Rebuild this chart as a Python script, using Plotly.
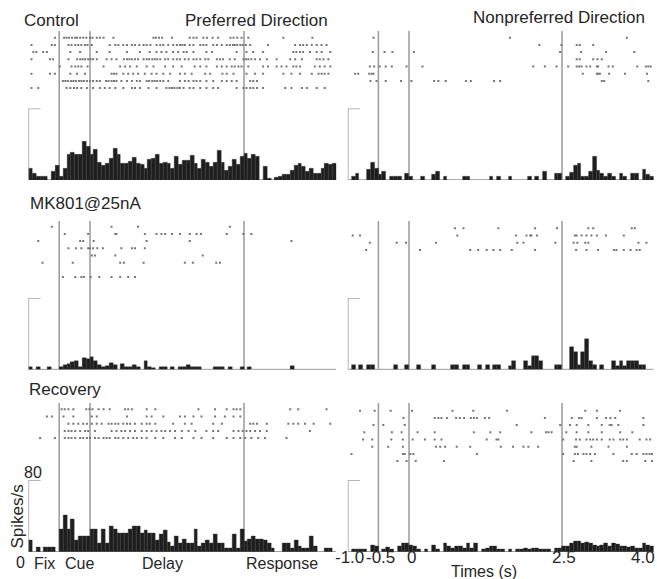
import plotly.graph_objects as go

# ---------------- data ----------------
BIN_START = -1.0
BIN_WIDTH = 0.0625
T_MIN, T_MAX = -1.0, 4.0
EVENT_TIMES = [-0.5, 0.0, 2.5]
SCALE_SPS = 80

# PSTH values (spikes/s), 80 bins of 62.5 ms from -1.0 s to 4.0 s
control_pref_psth = [13, 7, 4, 4, 4, 0, 9, 16, 4, 13, 29, 31, 28, 28, 43, 37, 29, 34, 20, 16,
                     19, 24, 35, 28, 19, 19, 21, 25, 19, 17, 13, 23, 24, 28, 19, 20, 19, 13, 26, 17,
                     22, 22, 27, 19, 13, 23, 20, 15, 20, 33, 20, 11, 15, 23, 17, 26, 30, 24, 28, 26,
                     0, 15, 2, 0, 3, 4, 6, 6, 11, 16, 18, 15, 9, 13, 7, 7, 13, 18, 17, 18]
control_nonpref_psth = [0, 4, 7, 0, 0, 12, 20, 13, 6, 9, 0, 4, 4, 4, 0, 7, 4, 0, 0, 4,
                        0, 0, 6, 9, 0, 4, 0, 0, 0, 0, 4, 4, 0, 0, 0, 0, 0, 4, 0, 4,
                        0, 0, 4, 0, 0, 0, 0, 4, 0, 4, 0, 9, 0, 0, 7, 7, 0, 4, 8, 16,
                        18, 4, 4, 9, 26, 11, 7, 4, 7, 4, 0, 7, 4, 0, 7, 7, 0, 12, 6, 4]
mk801_pref_psth = [3, 0, 3, 0, 0, 3, 0, 0, 3, 5, 6, 8, 9, 3, 13, 12, 14, 9, 5, 3,
                   4, 7, 5, 0, 6, 3, 3, 5, 3, 0, 10, 3, 2, 0, 3, 3, 0, 3, 0, 3,
                   3, 5, 3, 3, 3, 0, 0, 0, 3, 3, 3, 0, 3, 0, 0, 3, 0, 3, 0, 0,
                   0, 0, 0, 0, 0, 0, 0, 0, 4, 0, 0, 0, 0, 0, 0, 0, 0, 0, 0, 0]
mk801_nonpref_psth = [0, 5, 0, 5, 0, 5, 5, 0, 0, 0, 0, 0, 5, 0, 0, 5, 0, 0, 5, 0,
                      0, 0, 5, 0, 0, 0, 0, 5, 5, 0, 5, 5, 0, 0, 5, 0, 5, 0, 5, 5,
                      0, 0, 4, 10, 0, 0, 10, 4, 15, 15, 10, 0, 0, 0, 5, 5, 0, 0, 25, 20,
                      5, 20, 34, 9, 5, 0, 5, 0, 0, 9, 4, 9, 4, 9, 9, 9, 5, 5, 0, 0]
recovery_pref_psth = [13, 0, 5, 0, 5, 5, 5, 0, 25, 41, 25, 36, 13, 17, 17, 17, 25, 25, 9, 25,
                      9, 29, 25, 21, 21, 21, 25, 29, 29, 21, 24, 21, 21, 13, 20, 24, 11, 6, 17, 9,
                      14, 9, 9, 25, 6, 9, 13, 9, 20, 9, 9, 4, 4, 20, 4, 25, 12, 14, 17, 14,
                      14, 13, 9, 4, 0, 0, 9, 9, 4, 13, 6, 4, 4, 17, 6, 0, 0, 4, 4, 0]
recovery_nonpref_psth = [0, 3, 3, 3, 3, 0, 7, 6, 0, 3, 5, 3, 0, 6, 10, 10, 7, 6, 3, 0,
                         3, 0, 7, 3, 0, 10, 6, 4, 6, 6, 4, 9, 4, 9, 0, 3, 4, 6, 6, 3,
                         3, 0, 3, 0, 3, 3, 4, 3, 4, 4, 3, 3, 3, 0, 4, 4, 6, 6, 9, 12,
                         12, 9, 11, 9, 7, 6, 7, 9, 6, 10, 8, 6, 6, 5, 6, 4, 4, 10, 7, 6]

# Raster spike times (s), one list per trial (top to bottom)
control_pref_raster = [
    [-0.57, -0.42, -0.38, -0.34, -0.29, -0.24, -0.21, -0.16, -0.11, -0.06, 0.0, 0.04, 0.11, 0.16, 0.22, 0.38,
     1.03, 1.07, 1.12, 1.17, 1.33, 1.62, 1.68, 1.73, 1.84, 1.90, 1.99, 2.08, 2.28, 2.33, 2.39, 2.46, 2.57, 3.14, 3.61],
    [-0.95, -0.62, -0.57, -0.35, -0.30, -0.24, -0.19, -0.14, -0.08, -0.04, 0.03, 0.32, 0.41, 0.46, 0.54, 0.60,
     0.68, 0.73, 0.80, 0.87, 0.92, 0.98, 1.08, 1.14, 1.19, 1.27, 1.35, 1.41, 1.46, 1.50, 1.54, 1.62, 1.68, 1.79,
     1.84, 1.89, 2.00, 2.06, 2.14, 2.22, 2.27, 2.32, 2.35, 2.39, 2.44, 2.48, 2.53, 2.60, 2.89, 3.33, 3.41, 3.46,
     3.52, 3.60, 3.68, 3.76, 3.84],
    [-0.92, -0.87, -0.76, -0.70, -0.32, -0.16, 0.11, 0.32, 0.60, 0.81, 0.97, 1.08, 1.16, 1.24, 1.35, 1.43, 1.52,
     1.57, 1.68, 1.89, 1.98, 2.38, 2.54, 2.65, 2.81, 3.30, 3.35, 3.41, 3.46, 3.57, 3.68, 3.76, 3.90],
    [-0.95, -0.65, -0.60, -0.35, -0.21, -0.16, -0.12, -0.08, -0.03, 0.01, 0.05, 0.11, 0.27, 0.35, 0.43, 0.55,
     0.60, 0.64, 0.68, 0.73, 0.78, 0.87, 0.92, 0.96, 1.01, 1.05, 1.09, 1.14, 1.22, 1.27, 1.35, 1.41, 1.46, 1.54,
     1.60, 1.68, 1.73, 1.79, 1.87, 1.92, 2.06, 2.11, 2.16, 2.27, 2.35, 2.49, 2.53, 2.57, 2.62, 2.68, 2.76, 2.87,
     3.03, 3.25, 3.33, 3.44, 3.68, 3.73, 3.79, 3.87],
    [-0.49, -0.30, -0.24, -0.19, -0.14, -0.04, 0.22, 0.49, 0.57, 0.65, 0.76, 0.92, 1.03, 1.22, 1.35, 1.49, 1.70,
     1.79, 1.89, 2.06, 2.14, 2.22, 2.30, 2.35, 2.41, 2.46, 2.57, 2.81, 2.89, 3.03, 3.11, 3.19, 3.30, 3.35, 3.41,
     3.65, 3.73, 3.81, 3.90],
    [-0.95, -0.65, -0.57, -0.32, -0.21, -0.08, 0.35, 0.39, 0.43, 0.54, 0.62, 0.70, 0.78, 0.89, 1.00, 1.08, 1.19,
     1.30, 1.46, 1.54, 1.65, 1.87, 1.95, 2.15, 2.22, 2.33, 2.54, 2.68, 2.81, 3.14, 3.27, 3.41, 3.60, 3.71, 3.76,
     3.81, 3.87],
    [-0.44, -0.40, -0.36, -0.31, -0.27, -0.23, -0.18, -0.14, -0.10, -0.05, 0.0, 0.05, 0.11, 0.16, 0.26, 0.30,
     0.35, 0.39, 0.43, 0.51, 0.60, 0.68, 0.76, 0.81, 0.92, 0.96, 1.01, 1.05, 1.09, 1.14, 1.19, 1.27, 1.46, 1.54,
     1.60, 1.68, 1.73, 1.79, 1.89, 2.00, 2.14, 2.22, 2.30, 2.38, 2.60, 2.65, 2.71],
    [-0.95, -0.84, -0.38, -0.32, -0.26, -0.21, -0.14, -0.05, 0.05, 0.16, 0.24, 0.32, 0.41, 0.54, 0.68, 0.73,
     0.81, 0.95, 1.08, 1.24, 1.29, 1.33, 1.37, 1.42, 1.46, 1.52, 1.62, 1.68, 1.79, 1.89, 2.00, 2.08, 2.38, 2.49,
     2.54, 2.60, 2.65, 2.71, 2.81, 3.17, 3.27, 3.44, 3.52, 3.68, 3.81],
]
control_nonpref_raster = [
    [-0.58, 1.65, 3.56],
    [2.13, 2.49, 2.74, 2.79, 3.01],
    [-0.59, -0.40, -0.27, 0.08, 2.47, 2.81, 3.22, 3.68],
    [2.74, 2.79, 3.01, 3.08, 3.15],
    [-0.64, -0.57, -0.48, -0.38, -0.28, -0.04, 0.22, 2.03, 2.22, 2.41, 2.60, 2.74, 2.78, 2.82, 2.90, 2.96, 3.07,
     3.09, 3.26, 3.33, 3.73, 3.87, 3.91, 3.95],
    [-0.88, -0.83, -0.65, -0.61, -0.58, 2.84, 3.07, 3.09, 3.12, 3.27, 3.53, 3.89],
    [-0.63, -0.53, -0.38, -0.13, 0.04, 0.41, 0.48, 0.60, 0.93, 1.01, 1.39, 1.49, 3.15, 3.19, 3.91],
]
mk801_pref_raster = [
    [-0.62, 0.35, 0.78, 2.27],
    [-0.41, -0.03, 0.41, 0.43, 0.89, 1.08, 1.16, 1.22, 1.33, 1.46, 1.62, 1.73, 1.80, 2.22, 2.49, 2.62],
    [-0.84, -0.16, -0.11, 0.06, 0.92, 1.62, 3.27],
    [-0.35, -0.23, -0.14, -0.03, 0.0, 0.05, 0.12, 0.21, 0.51, 0.68, 0.73, 0.89],
    [0.03, 0.08, 0.41, 1.83],
    [-0.77, -0.28, 0.49, 0.55, 0.87, 1.54, 1.67, 2.05, 2.11],
    [],
    [-0.44, -0.24, -0.14, -0.10, 0.01, 0.15, 0.35, 0.49, 0.62, 0.73],
]
mk801_nonpref_raster = [
    [0.75, 0.89, 1.46, 2.06, 2.42, 2.93, 3.01, 3.64, 3.69],
    [-0.92, -0.80, 0.79, 1.75, 1.92, 1.98, 2.00, 2.09, 2.71, 2.74, 2.82, 2.90, 2.98, 3.07, 3.22, 3.51],
    [-0.64, -0.20, -0.05, 0.44, 1.77, 1.87, 2.39, 2.69, 2.75, 2.88, 2.93, 3.75, 3.88],
    [-0.70, 0.18, 1.00, 1.13, 1.27, 1.38, 1.49, 1.68, 2.06, 2.73, 2.90, 3.09, 3.35, 3.39, 3.51, 3.62, 3.72, 3.77],
]
recovery_pref_raster = [
    [-0.46, -0.41, -0.35, -0.27, -0.06, -0.01, 0.04, 0.14, 0.22, 0.32, 0.57, 0.62, 0.68, 0.92, 1.06, 1.76, 2.03,
     2.22, 2.33, 2.38, 2.44, 3.25, 3.38, 3.84],
    [-0.70, -0.62, -0.43, -0.27, 0.03, 0.11, 0.60, 0.92, 1.00, 1.19, 1.46, 1.54, 1.68, 1.81, 2.03, 2.19, 2.33, 2.44],
    [-0.35, -0.27, -0.19, -0.11, -0.05, 0.03, 0.11, 0.19, 0.30, 0.35, 0.41, 0.46, 0.54, 0.60, 0.65, 0.73, 0.84,
     0.92, 0.97, 1.06, 1.35, 1.54, 1.65, 2.00, 2.14, 2.60, 2.65, 2.71, 2.87, 3.22, 3.30, 3.38, 3.49, 3.63, 3.90],
    [-0.41, -0.35, -0.30, -0.24, -0.16, -0.08, -0.03, 0.08, 0.35, 0.43, 0.51, 0.57, 0.65, 0.73, 0.84, 0.92, 1.00,
     1.08, 1.16, 1.22, 1.30, 1.38, 1.49, 1.60, 1.71, 1.89, 2.00, 2.08, 2.33, 2.41, 2.48, 2.54, 2.60, 2.68, 2.76,
     2.87, 3.57],
    [-0.81, -0.57, -0.41, -0.35, -0.30, -0.24, -0.16, -0.11, -0.05, 0.0, 0.08, 0.14, 0.22, 0.27, 0.32, 0.41, 0.46,
     0.54, 0.62, 0.70, 0.76, 0.84, 0.92, 1.06, 1.19, 1.38, 1.49, 1.68, 1.81, 2.00, 2.22, 2.33, 2.44, 2.52, 2.62,
     2.73, 2.84, 3.19],
]
recovery_nonpref_raster = [
    [-0.80, -0.56, -0.30, 0.05, 0.71, 1.05, 1.60, 2.88, 3.07, 3.45],
    [-0.09, 0.42, 0.48, 0.53, 0.62, 0.77, 0.83, 0.90, 1.01, 1.06, 1.11, 1.24, 1.31, 2.22, 2.66, 2.78, 2.82, 3.07,
     3.22, 3.29, 3.37, 3.83],
    [-0.58, -0.42, -0.07, 1.76, 2.47, 2.63, 2.74, 2.93, 3.15, 3.28, 3.31, 3.42, 3.83],
    [-0.73, -0.28, -0.12, 0.14, 0.42, 1.06, 1.33, 1.49, 2.00, 2.24, 2.28, 2.33, 2.57, 2.74, 2.93, 3.15, 3.45, 3.65],
    [-0.75, -0.60, -0.29, -0.10, 0.06, 0.26, 0.42, 0.53, 1.27, 1.43, 1.46, 2.52, 2.73, 2.79, 2.90, 2.96, 3.01,
     3.07, 3.15, 3.28, 3.34, 3.45, 3.50, 3.56, 3.77, 3.88, 3.94],
    [-0.60, -0.34, -0.10, 0.44, 0.51, 0.59, 0.78, 1.00, 1.50, 1.70, 1.87, 1.95, 2.11, 2.71, 2.74, 2.98, 3.26, 3.56],
    [-0.94, -0.10, -0.07, 0.02, 0.07, 1.11, 2.52, 2.71, 2.76, 2.85, 2.90, 2.96, 3.04, 3.34, 3.64, 3.72, 3.83,
     3.88, 3.93, 3.97],
    [-0.19, -0.04, 0.11, 0.57, 2.69, 2.98, 3.50, 3.56, 3.86, 3.97],
]

row_titles = ["Control", "MK801@25nA", "Recovery"]
col_titles = ["Preferred Direction", "Nonpreferred Direction"]
epoch_labels = ["Fix", "Cue", "Delay", "Response"]
time_tick_labels = ["-1.0", "-0.5", "0", "2.5", "4.0"]
time_tick_values = [-1.0, -0.5, 0.0, 2.5, 4.0]

panels = [
    (control_pref_psth, control_pref_raster),
    (control_nonpref_psth, control_nonpref_raster),
    (mk801_pref_psth, mk801_pref_raster),
    (mk801_nonpref_psth, mk801_nonpref_raster),
    (recovery_pref_psth, recovery_pref_raster),
    (recovery_nonpref_psth, recovery_nonpref_raster),
]
for h, _ in panels:
    assert len(h) == 80

# ---------------- layout geometry (pixels) ----------------
W, H = 657, 579
def pxx(p): return p / W
def pxy(p): return 1 - p / H

col_px = [(28.4, 336.4), (347.8, 653.8)]
baseline_px = [180.0, 369.5, 551.7]
hist_h_px = 71.5
line_top_px = [31.0, 221.0, 403.0]
first_trial_px = [[37.7, 37.7], [226.7, 228.3], [409.3, 410.7]]
trial_step_px = 7.2
MAX_TRIALS = 8

BAR_COLOR = "#1e1e1e"
GRAY = "#a0a0a0"
DOT_COLOR = "#767676"
TXT = "#262626"
FONT = "Liberation Sans, Arial, sans-serif"

fig = go.Figure()
layout = {}
shapes = []

for p, (psth, raster) in enumerate(panels):
    r, c = divmod(p, 2)
    xa = f"x{p+1}"
    yh = f"y{p+1}"
    yr = f"y{p+7}"
    x0p, x1p = col_px[c]
    layout[f"xaxis{p+1}"] = dict(domain=[pxx(x0p), pxx(x1p)], range=[T_MIN, T_MAX],
                                 visible=False, anchor=yh, fixedrange=True)
    layout[f"yaxis{p+1}"] = dict(domain=[pxy(baseline_px[r]), pxy(baseline_px[r] - hist_h_px)],
                                 range=[0, SCALE_SPS], visible=False, anchor=xa)
    top = first_trial_px[r][c] - trial_step_px / 2
    bot = top + MAX_TRIALS * trial_step_px
    layout[f"yaxis{p+7}"] = dict(domain=[pxy(bot), pxy(top)], range=[MAX_TRIALS + 0.5, 0.5],
                                 visible=False, anchor=xa)

    centers = [BIN_START + BIN_WIDTH * (i + 0.5) for i in range(len(psth))]
    fig.add_trace(go.Bar(x=centers, y=psth, width=BIN_WIDTH, xaxis=xa, yaxis=yh,
                         marker=dict(color=BAR_COLOR, line=dict(color="#3a3a3a", width=0.4)),
                         showlegend=False, hoverinfo="skip"))

    xs, ys = [], []
    for k, trial in enumerate(raster):
        xs += trial
        ys += [k + 1] * len(trial)
    fig.add_trace(go.Scatter(x=xs, y=ys, mode="markers", xaxis=xa, yaxis=yr,
                             marker=dict(symbol="square", size=2.0, color=DOT_COLOR, line=dict(width=0)),
                             showlegend=False, hoverinfo="skip"))

    for t in EVENT_TIMES:
        shapes.append(dict(type="line", xref=xa, yref="paper", x0=t, x1=t,
                           y0=pxy(baseline_px[r]), y1=pxy(line_top_px[r]),
                           line=dict(color=GRAY, width=1.6), layer="below"))
    # baseline
    shapes.append(dict(type="line", xref=xa, yref=yh, x0=T_MIN, x1=T_MAX, y0=0, y1=0,
                       line=dict(color="#b4b4b4", width=1.4), layer="below"))
    # scale bracket
    shapes.append(dict(type="line", xref=xa, yref=yh, x0=T_MIN, x1=T_MIN, y0=0, y1=SCALE_SPS,
                       line=dict(color=GRAY, width=1.5)))
    shapes.append(dict(type="line", xref=xa, yref=yh, x0=T_MIN, x1=T_MIN + 0.2, y0=SCALE_SPS, y1=SCALE_SPS,
                       line=dict(color=GRAY, width=1.5)))

ann = []
def text(s, x, y, size=17, xanchor="center", textangle=0):
    ann.append(dict(text=s, x=pxx(x), y=pxy(y), xref="paper", yref="paper", showarrow=False,
                    xanchor=xanchor, yanchor="middle", textangle=textangle,
                    font=dict(size=size, color=TXT, family=FONT)))

text(row_titles[0], 22, 20, xanchor="left")
text(row_titles[1], 28, 203, xanchor="left")
text(row_titles[2], 26.5, 389, xanchor="left")
text(col_titles[0], 256, 20)
text(col_titles[1], 559, 17)

# bottom-left scale labels and epochs
text(str(SCALE_SPS), 32.5, 472, size=16)
text("Spikes/s", 16.5, 517, size=17, textangle=-90)
text("0", 20, 562, size=16)
for lab, xpx in zip(epoch_labels, [44, 79, 162, 282]):
    text(lab, xpx, 563, size=16)

# bottom-right time ticks
for lab, tv in zip(time_tick_labels, time_tick_values):
    xpx = col_px[1][0] + (tv - T_MIN) / (T_MAX - T_MIN) * (col_px[1][1] - col_px[1][0])
    if tv == T_MAX:
        text(lab, 657, 557.5, size=17, xanchor="right")
    else:
        text(lab, xpx + 2, 557.5, size=17)
text("Times (s)", 484, 571, size=16)

fig.update_layout(width=W, height=H, margin=dict(l=0, r=0, t=0, b=0),
                  paper_bgcolor="white", plot_bgcolor="rgba(0,0,0,0)",
                  bargap=0, shapes=shapes, annotations=ann, showlegend=False, **layout)
fig.write_html("out.html")
